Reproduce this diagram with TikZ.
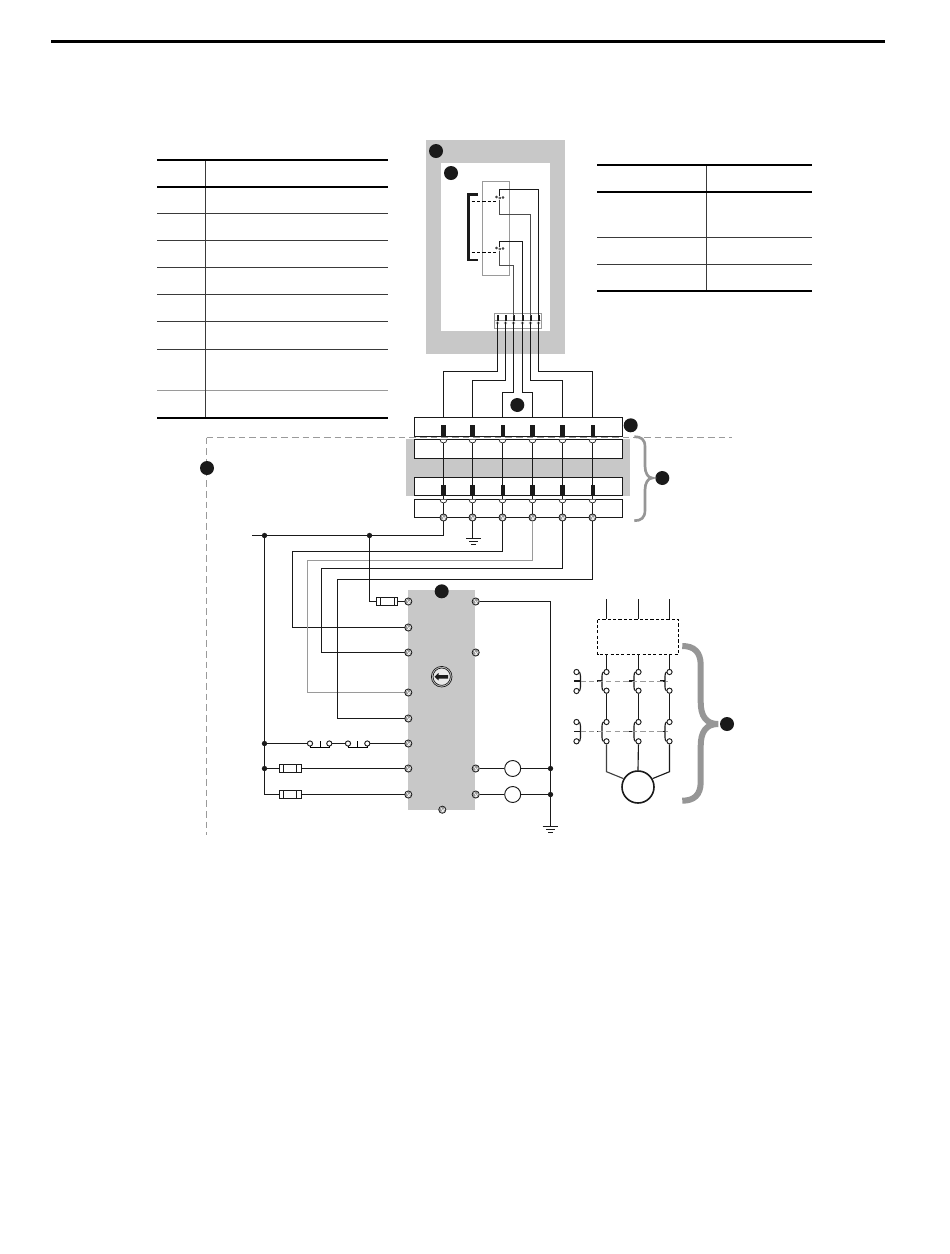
\documentclass[tikz,border=0pt]{standalone}
\definecolor{panel}{HTML}{C8C8C8}
\definecolor{brc}{HTML}{969696}
\definecolor{ink}{HTML}{1A1A1A}
\definecolor{rule}{HTML}{3A3A3A}
\definecolor{wiregray}{HTML}{9A9A9A}
\tikzset{
  wire/.style={draw=ink,line width=0.85pt},
  graywire/.style={draw=wiregray,line width=1pt},
  tick/.style={draw=black,line width=0.6pt},
  boxline/.style={draw=ink,line width=0.85pt,fill=white},
  bullet/.style={circle,fill=ink,inner sep=0pt,minimum size=10.5pt},
  junction/.style={circle,fill=ink,inner sep=0pt,minimum size=4pt},
  screw/.style={circle,draw=ink,line width=0.55pt,fill=wiregray,inner sep=0pt,minimum size=5.4pt,
    path picture={\draw[white,line width=0.45pt] ([xshift=-1.2pt]path picture bounding box.south east) -- ([yshift=1.2pt]path picture bounding box.north west);
    \draw[white,line width=0.45pt] ([xshift=1.2pt]path picture bounding box.south west) -- ([yshift=-1.2pt]path picture bounding box.north east);}},
  contact/.style={circle,draw=ink,line width=0.7pt,fill=white,inner sep=0pt,minimum size=3.9pt},
  minicontact/.style={circle,draw=ink,line width=0.35pt,fill=white,inner sep=0pt,minimum size=1.6pt},
  tablethin/.style={draw=rule,line width=0.75pt},
  tablethick/.style={draw=black,line width=1.5pt},
  fusebox/.style={draw=ink,line width=0.7pt,fill=white},
  lamp/.style={circle,draw=ink,line width=0.7pt,fill=white,inner sep=0pt,minimum size=12pt},
  dashgray/.style={draw=wiregray,line width=0.7pt,dash pattern=on 5pt off 3pt},
  dashblack/.style={draw=black,line width=0.7pt,dash pattern=on 2.4pt off 1.6pt},
  gbar/.style={draw=ink,line width=0.7pt},
}
\begin{document}
\begin{tikzpicture}[x=0.75pt,y=-0.75pt]
\useasboundingbox (0,0) rectangle (950,1254);
% page rule
\draw[draw=black,line width=2.3pt] (51,41.5) -- (885,41.5);

% left table
\foreach \y in {213.5,240.5,267.5,294.5,321.5,349.5}{\draw[tablethin] (157,\y) -- (388,\y);}
\draw[draw=wiregray,line width=0.9pt] (157,390.5) -- (388,390.5);
\draw[tablethin] (205.5,160) -- (205.5,418);
\draw[tablethick] (157,160) -- (388,160);
\draw[tablethick] (157,187) -- (388,187);
\draw[tablethick] (157,418) -- (388,418);

% right table
\foreach \y in {237.5,264.5}{\draw[tablethin] (597,\y) -- (812,\y);}
\draw[tablethin] (706.5,164.5) -- (706.5,291);
\draw[tablethick] (597,165) -- (812,165);
\draw[tablethick] (597,192) -- (812,192);
\draw[tablethick] (597,291) -- (812,291);

% top enclosure
\fill[panel] (426,140) rectangle (565.3,354);
\fill[white] (441,163) rectangle (550,331);
\node[bullet] (bA) at (436,151) {};
\node[bullet] (bB) at (451,173) {};
\draw[draw=wiregray,line width=0.7pt] (482.5,181.5) rectangle (509.5,275.5);
% bracket
\draw[draw=ink,line width=2.2pt] (478,194.5) -- (468.7,194.5) -- (468.7,260) -- (478,260);
% device terminal strip
\draw[draw=wiregray,line width=0.7pt,fill=white] (494.5,313.5) rectangle (541.5,328.5);
\draw[draw=wiregray,line width=0.5pt] (494.5,320.7) -- (541.5,320.7);
\foreach \n/\x in {1/497.5,2/505.5,3/513.5,4/522.5,5/530.5,6/538.5}{
  \coordinate (d\n) at (\x,322);
  \fill[ink] (\x-1,315) rectangle (\x+1,321);
  \draw[draw=wiregray,line width=0.4pt,fill=white] (\x,323) circle (1.5);
}
% switches
\node[minicontact] (sa1) at (496.5,197) {};
\node[minicontact] (sa2) at (499.7,198) {};
\node[minicontact] (sa3) at (503,197.5) {};
\node[minicontact] (sb1) at (496.5,248) {};
\node[minicontact] (sb2) at (499.7,249) {};
\node[minicontact] (sb3) at (503,248.5) {};
\draw[dashblack] (471.7,201.5) -- (498,201.5);
\draw[dashblack] (471.7,252.5) -- (498,252.5);
\draw[wire] (499.5,196) -- (499.5,189.5) -- (538.5,189.5) -- (538.5,316);
\draw[draw=ink!60!wiregray,line width=0.9pt] (499.5,200) -- (499.5,214.5) -- (530.5,214.5) -- (530.5,316);
\draw[wire] (499.5,247) -- (499.5,241.5) -- (522.5,241.5) -- (522.5,316);
\draw[draw=ink!60!wiregray,line width=0.9pt] (499.5,251) -- (499.5,265.5) -- (513.5,265.5) -- (513.5,316);
% cable from device to relay strip
\coordinate (u1) at (443.5,426);
\coordinate (u2) at (472.5,426);
\coordinate (u3) at (502.5,426);
\coordinate (u4) at (532.5,426);
\coordinate (u5) at (562.5,426);
\coordinate (u6) at (592.5,426);
\draw[wire] (d1) -- (d1 |- 0,371.5) -| (u1);
\draw[wire] (d2) -- (d2 |- 0,380.5) -| (u2);
\draw[wire] (d3) -- (d3 |- 0,392.5) -| (u3);
\draw[wire] (d4) -- (d4 |- 0,392.5) -| (u4);
\draw[wire] (d5) -- (d5 |- 0,380.5) -| (u5);
\draw[wire] (d6) -- (d6 |- 0,371.5) -| (u6);
\node[bullet] (bC) at (517.3,405) {};

% relay module
\fill[panel] (406,438.7) rectangle (630,495.7);
\draw[boxline] (414.5,417.5) rectangle (622.5,436.5);
\draw[boxline] (414.5,439.5) rectangle (622.5,458.5);
\draw[boxline] (414.5,477.5) rectangle (622.5,495.5);
\draw[boxline] (414.5,499.5) rectangle (622.5,517.5);
\draw[dashgray] (206.5,437.5) -- (732,437.5);
\draw[dashgray] (206.5,437.5) -- (206.5,835);
\node[bullet] (bD) at (207,468) {};
\foreach \n/\x/\w in {1/443.5/2.5,2/472.5/2.5,3/502.5/2,4/532.5/2.5,5/562.5/2.5,6/592.5/2}{
  \draw[wire] (\x,441) -- (\x,486);
  \draw[wire] (\x,496) -- (\x,515);
  \fill[ink] (\x-\w,425.3) rectangle (\x+\w,436.3);
  \fill[ink] (\x-\w,485.3) rectangle (\x+\w,495.3);
  \foreach \yy in {439.5,499.5}{
    \fill[white] (\x-3.5,\yy) arc (180:0:3.5) -- cycle;
    \draw[draw=ink,line width=0.5pt] (\x-3.5,\yy) arc (180:0:3.5);
  }
  \node[screw] (s\n) at (\x,517.5) {};
}
\node[bullet] (bE) at (630.7,425.3) {};
\node[bullet] (bF) at (662.3,478) {};
\draw[draw=brc,line width=2pt] (634.3,436.7) .. controls (641,436.7) and (645,439) .. (645,447) -- (645,466) .. controls (645,473) and (648,478) .. (652.3,478) .. controls (648,478) and (645,483) .. (645,490) -- (645,510) .. controls (645,518) and (641,520.7) .. (634.3,520.7);

% ground under strip
\coordinate (g1) at (472.5,538.3);
\draw[wire] (s2) -- (g1);
\draw[gbar] (466,538.5) -- (480.5,538.5);
\draw[gbar] (469,541.5) -- (477.5,541.5);
\draw[gbar] (471,544.5) -- (475.5,544.5);

% controller
\fill[panel] (407.7,589.7) rectangle (475,810);
\node[bullet] (bG) at (441.7,591.3) {};
\foreach \n/\y in {1/601.5,2/627.5,3/652.5,4/692.5,5/718.5,6/743.5,7/768.5,8/794.5}{\coordinate (lp\n) at (408.3,\y);}
\foreach \n/\y in {1/601.5,3/652.5,7/768.5,8/794.5}{\coordinate (rp\n) at (475.7,\y);}
\coordinate (bus0) at (252.3,535.5);
\node[junction] (j1) at (264.5,535.5) {};
\node[junction] (j2) at (369.5,535.5) {};
\node[junction] (j3) at (264.5,743.5) {};
\node[junction] (j4) at (264.5,768.5) {};
\draw[wire] (s1) |- (bus0);
% signal wires
\draw[wire] (s3) -- (502.5,551.5) -- (292.5,551.5) |- (lp2);
\draw[graywire] (s4) -- (532.5,560.5) -- (307.5,560.5) |- (lp4);
\draw[wire] (s5) -- (562.5,568.5) -- (321.5,568.5) |- (lp3);
\draw[wire] (s6) -- (592.5,579.5) -- (337.5,579.5) |- (lp5);
% bus wires
\coordinate (f0) at (376.3,601.5);
\draw[wire] (j2) |- (f0);
\draw[fusebox] (376.5,597.5) rectangle (397.5,605.5);
\draw[fusebox] (380.5,597.5) -- (380.5,605.5);
\draw[fusebox] (394.5,597.5) -- (394.5,605.5);
\draw[wire] (397.5,601.5) -- (lp1);
\coordinate (fb) at (279.5,794.5);
\draw[wire] (j1) -- (264.5,794.5) -- (fb);
\draw[wire] (j4) -- (279.5,768.5);
\foreach \n/\y in {7/768.5,8/794.5}{
  \draw[fusebox] (279.5,\y-4) rectangle (301.5,\y+4);
  \draw[fusebox] (283.5,\y-4) -- (283.5,\y+4);
  \draw[fusebox] (296.5,\y-4) -- (296.5,\y+4);
  \draw[wire] (301.5,\y) -- (lp\n);
}
% pushbuttons
\node[contact] (p1) at (310,743.5) {};
\node[contact] (p2) at (329.3,743.5) {};
\node[contact] (p3) at (348,743.5) {};
\node[contact] (p4) at (367.3,743.5) {};
\draw[wire] (j3) -- (p1);
\draw[wire] (p2) -- (p3);
\draw[wire] (p4) -- (lp6);
\draw[tick] (310,745.5) -- (310,747.5) -- (329.3,747.5) -- (329.3,745.5);
\draw[tick] (320,741) -- (320,747.5);
\draw[tick] (348,745.5) -- (348,747.5) -- (367.3,747.5) -- (367.3,745.5);
\draw[tick] (357.7,741) -- (357.7,747.5);
% screws on controller
\foreach \n in {1,...,8}{\node[screw] (lt\n) at (lp\n) {};}
\foreach \n in {1,3,7,8}{\node[screw] (rt\n) at (rp\n) {};}
\node[screw] (bt) at (442.3,809.7) {};
% selector switch
\node[circle,draw=ink,line width=0.5pt,fill=panel,inner sep=0pt,minimum size=15.5pt] (sel) at (441.7,676.7) {};
\node[circle,draw=ink,line width=0.5pt,fill=white!60!panel,inner sep=0pt,minimum size=13pt] (sel2) at (441.7,676.7) {};
\fill[ink] (434.5,676.7) -- (438.5,673) -- (438.5,675) -- (448,675) -- (448,678.5) -- (438.5,678.5) -- (438.5,680.4) -- cycle;
% lamps and common
\node[lamp] (L1) at (512.7,768.5) {};
\node[lamp] (L2) at (512.7,794.5) {};
\node[junction] (j5) at (550.5,768.5) {};
\node[junction] (j6) at (550.5,794.5) {};
\coordinate (g2) at (550.5,826);
\draw[wire] (rt1) -| (g2);
\draw[wire] (rt7) -- (L1);
\draw[wire] (L1) -- (j5);
\draw[wire] (rt8) -- (L2);
\draw[wire] (L2) -- (j6);
\draw[gbar] (542.7,826.5) -- (557.9,826.5);
\draw[gbar] (546,829.5) -- (554.5,829.5);
\draw[gbar] (548.3,832.5) -- (552.5,832.5);

% power circuit
\draw[dashblack] (597.5,619.5) rectangle (678.5,654.5);
\foreach \n/\x in {1/606.5,2/638.5,3/669.5}{
  \draw[wire] (\x,599.3) -- (\x,619.3);
  \node[contact] (c\n a) at (\x,672) {};
  \node[contact] (c\n b) at (\x,690.7) {};
  \node[contact] (c\n c) at (\x,722) {};
  \node[contact] (c\n d) at (\x,741.3) {};
  \draw[wire] (\x,654) -- (c\n a);
  \draw[wire] (c\n b) -- (c\n c);
  \draw[wire] (c\n a.west) .. controls (\x-4,672.5) and (\x-4.5,674) .. (\x-4.5,676) -- (\x-4.5,687) .. controls (\x-4.5,689) and (\x-4,690.2) .. (c\n b.west);
  \draw[wire] (c\n c.west) .. controls (\x-4,722.5) and (\x-4.5,724) .. (\x-4.5,726) -- (\x-4.5,737.5) .. controls (\x-4.5,739.5) and (\x-4,740.8) .. (c\n d.west);
  \draw[wire] (\x-9.5,681) -- (\x-4.5,681);
  \draw[wire] (\x-9.5,731.5) -- (\x-4.5,731.5);
}
\foreach \n/\y in {e/672,f/691,g/722,h/741.3}{\node[contact] (aux\n) at (576.5,\y) {};}
\draw[wire] (auxe.east) .. controls (579.5,672.5) and (580.5,674) .. (580.5,676) -- (580.5,687) .. controls (580.5,689) and (579.5,690.5) .. (auxf.east);
\draw[wire] (auxg.east) .. controls (579.5,722.5) and (580.5,724) .. (580.5,726) -- (580.5,737.5) .. controls (580.5,739.5) and (579.5,740.8) .. (auxh.east);
\draw[wire] (574,681) -- (580.5,681);
\draw[wire] (574,731.5) -- (580.5,731.5);
\draw[dashgray,line width=0.6pt,dash pattern=on 4pt off 2.4pt] (580.5,681) -- (668,681);
\draw[dashgray,line width=0.6pt,dash pattern=on 4pt off 2.4pt] (580.5,731.5) -- (668,731.5);
% motor
\node[circle,draw=ink,line width=1.2pt,fill=white,inner sep=0pt,minimum size=24pt] (M) at (638,787) {};
\draw[draw=ink!70!wiregray,line width=0.85pt] (c1d) -- (606.5,771.7) -- (M.150);
\draw[wire] (c2d) -- (M.north);
\draw[wire] (c3d) -- (669.5,771.7) -- (M.30);
% large brace
\draw[draw=brc,line width=4.5pt] (682.3,646) .. controls (694,646) and (700.7,652) .. (700.7,665) -- (700.7,702) .. controls (700.7,716) and (706,724) .. (718,724) .. controls (706,724) and (700.7,732) .. (700.7,746) -- (700.7,782) .. controls (700.7,795) and (694,800.7) .. (682.3,800.7);
\node[bullet] (bH) at (727,724) {};
\end{tikzpicture}
\end{document}
